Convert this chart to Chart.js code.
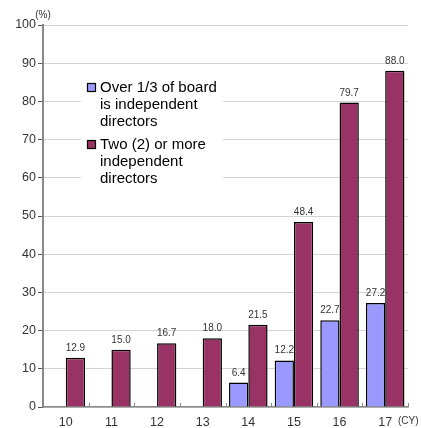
<!DOCTYPE html>
<html>
<head>
<meta charset="utf-8">
<script src="https://cdn.jsdelivr.net/npm/chart.js@4.4.0/dist/chart.umd.min.js"></script>
<style>
  html, body { margin: 0; padding: 0; background: #fff; }
  #wrap { position: relative; width: 421px; height: 428px; }
</style>
</head>
<body>
<div id="wrap"><canvas id="boardChart"></canvas></div>
<script>
  const years = ['10', '11', '12', '13', '14', '15', '16', '17'];
  const overOneThird = [null, null, null, null, 6.4, 12.2, 22.7, 27.2];
  const twoOrMore = [12.9, 15.0, 16.7, 18.0, 21.5, 48.4, 79.7, 88.0];
  const legendLines = [
    ['Over 1/3 of board', 'is independent', 'directors'],
    ['Two (2) or more', 'independent', 'directors']
  ];

  const FONT = "'Liberation Sans', Arial, sans-serif";

  // numbers above each bar (drawn under the bars, so the neighbour bar can cover them)
  const valueLabels = {
    id: 'valueLabels',
    beforeDatasetsDraw(chart) {
      const ctx = chart.ctx;
      ctx.save();
      ctx.font = '10px ' + FONT;
      ctx.fillStyle = '#333';
      ctx.textAlign = 'center';
      ctx.textBaseline = 'alphabetic';
      chart.data.datasets.forEach((ds, i) => {
        chart.getDatasetMeta(i).data.forEach((bar, j) => {
          if (ds.data[j] == null) return;
          ctx.fillText(ds.data[j].toFixed(1), bar.x, bar.y - 7);
        });
      });
      ctx.restore();
    }
  };

  // legend box, unit labels and the small category ticks on the x axis
  const extras = {
    id: 'extras',
    afterDraw(chart) {
      const ctx = chart.ctx;
      const area = chart.chartArea;
      const xs = chart.scales.x;
      ctx.save();

      ctx.strokeStyle = '#888';
      ctx.lineWidth = 1;
      const half = (xs.getPixelForValue(1) - xs.getPixelForValue(0)) / 2;
      for (let i = 0; i < years.length; i++) {
        const bx = Math.round(xs.getPixelForValue(i) + half) + 0.5;
        ctx.beginPath();
        ctx.moveTo(bx, area.bottom);
        ctx.lineTo(bx, area.bottom - 4);
        ctx.stroke();
      }

      ctx.fillStyle = '#333';
      ctx.font = '10px ' + FONT;
      ctx.textAlign = 'center';
      ctx.textBaseline = 'middle';
      ctx.fillText('(%)', area.left, 15);
      ctx.textAlign = 'left';
      ctx.fillText('(CY)', area.right - 10, 421);

      // legend
      ctx.fillStyle = '#fff';
      ctx.fillRect(81, 72, 142, 124);
      ctx.font = '15px ' + FONT;
      ctx.textBaseline = 'middle';
      let y = 88;
      chart.data.datasets.forEach((ds, i) => {
        ctx.fillStyle = ds.backgroundColor;
        ctx.fillRect(87.5, y - 4.5, 8, 8);
        ctx.strokeStyle = '#000';
        ctx.lineWidth = 1.2;
        ctx.strokeRect(87.5, y - 4.5, 8, 8);
        ctx.fillStyle = '#000';
        legendLines[i].forEach((line, k) => {
          ctx.fillText(line, 100, y + k * 16.7);
        });
        y += 57;
      });
      ctx.restore();
    }
  };

  const boardData = {
    labels: years,
    datasets: [{
      label: 'Over 1/3 of board is independent directors',
      data: overOneThird,
      backgroundColor: '#9999ff',
      borderColor: '#000',
      borderWidth: 1.5
    }, {
      label: 'Two (2) or more independent directors',
      data: twoOrMore,
      backgroundColor: '#993366',
      borderColor: '#000',
      borderWidth: 1.5
    }]
  };

  const boardConfig = {
    type: 'bar',
    data: boardData,
    options: {
      responsive: true,
      maintainAspectRatio: false,
      animation: false,
      categoryPercentage: 0.845,
      barPercentage: 1.0,
      layout: { padding: { top: 25, right: 13 } },
      plugins: {
        legend: { display: false },
        tooltip: { enabled: false }
      },
      scales: {
        x: {
          grid: { display: false, drawTicks: false },
          border: { color: '#888', width: 1.5 },
          ticks: { color: '#333', font: { size: 12.5, family: FONT }, padding: 8, maxRotation: 0 },
          afterFit(scale) { scale.height = 21; }
        },
        y: {
          min: 0,
          max: 100,
          grid: { color: '#d4d4d4', tickColor: '#555', tickLength: 5 },
          border: { color: '#888', width: 2 },
          ticks: { stepSize: 10, color: '#333', font: { size: 12.5, family: FONT }, padding: 2 },
          afterFit(scale) { scale.width = 43; }
        }
      }
    },
    plugins: [valueLabels, extras]
  };

  const boardChart = new Chart(
    document.getElementById('boardChart'),
    boardConfig
  );
</script>
</body>
</html>
